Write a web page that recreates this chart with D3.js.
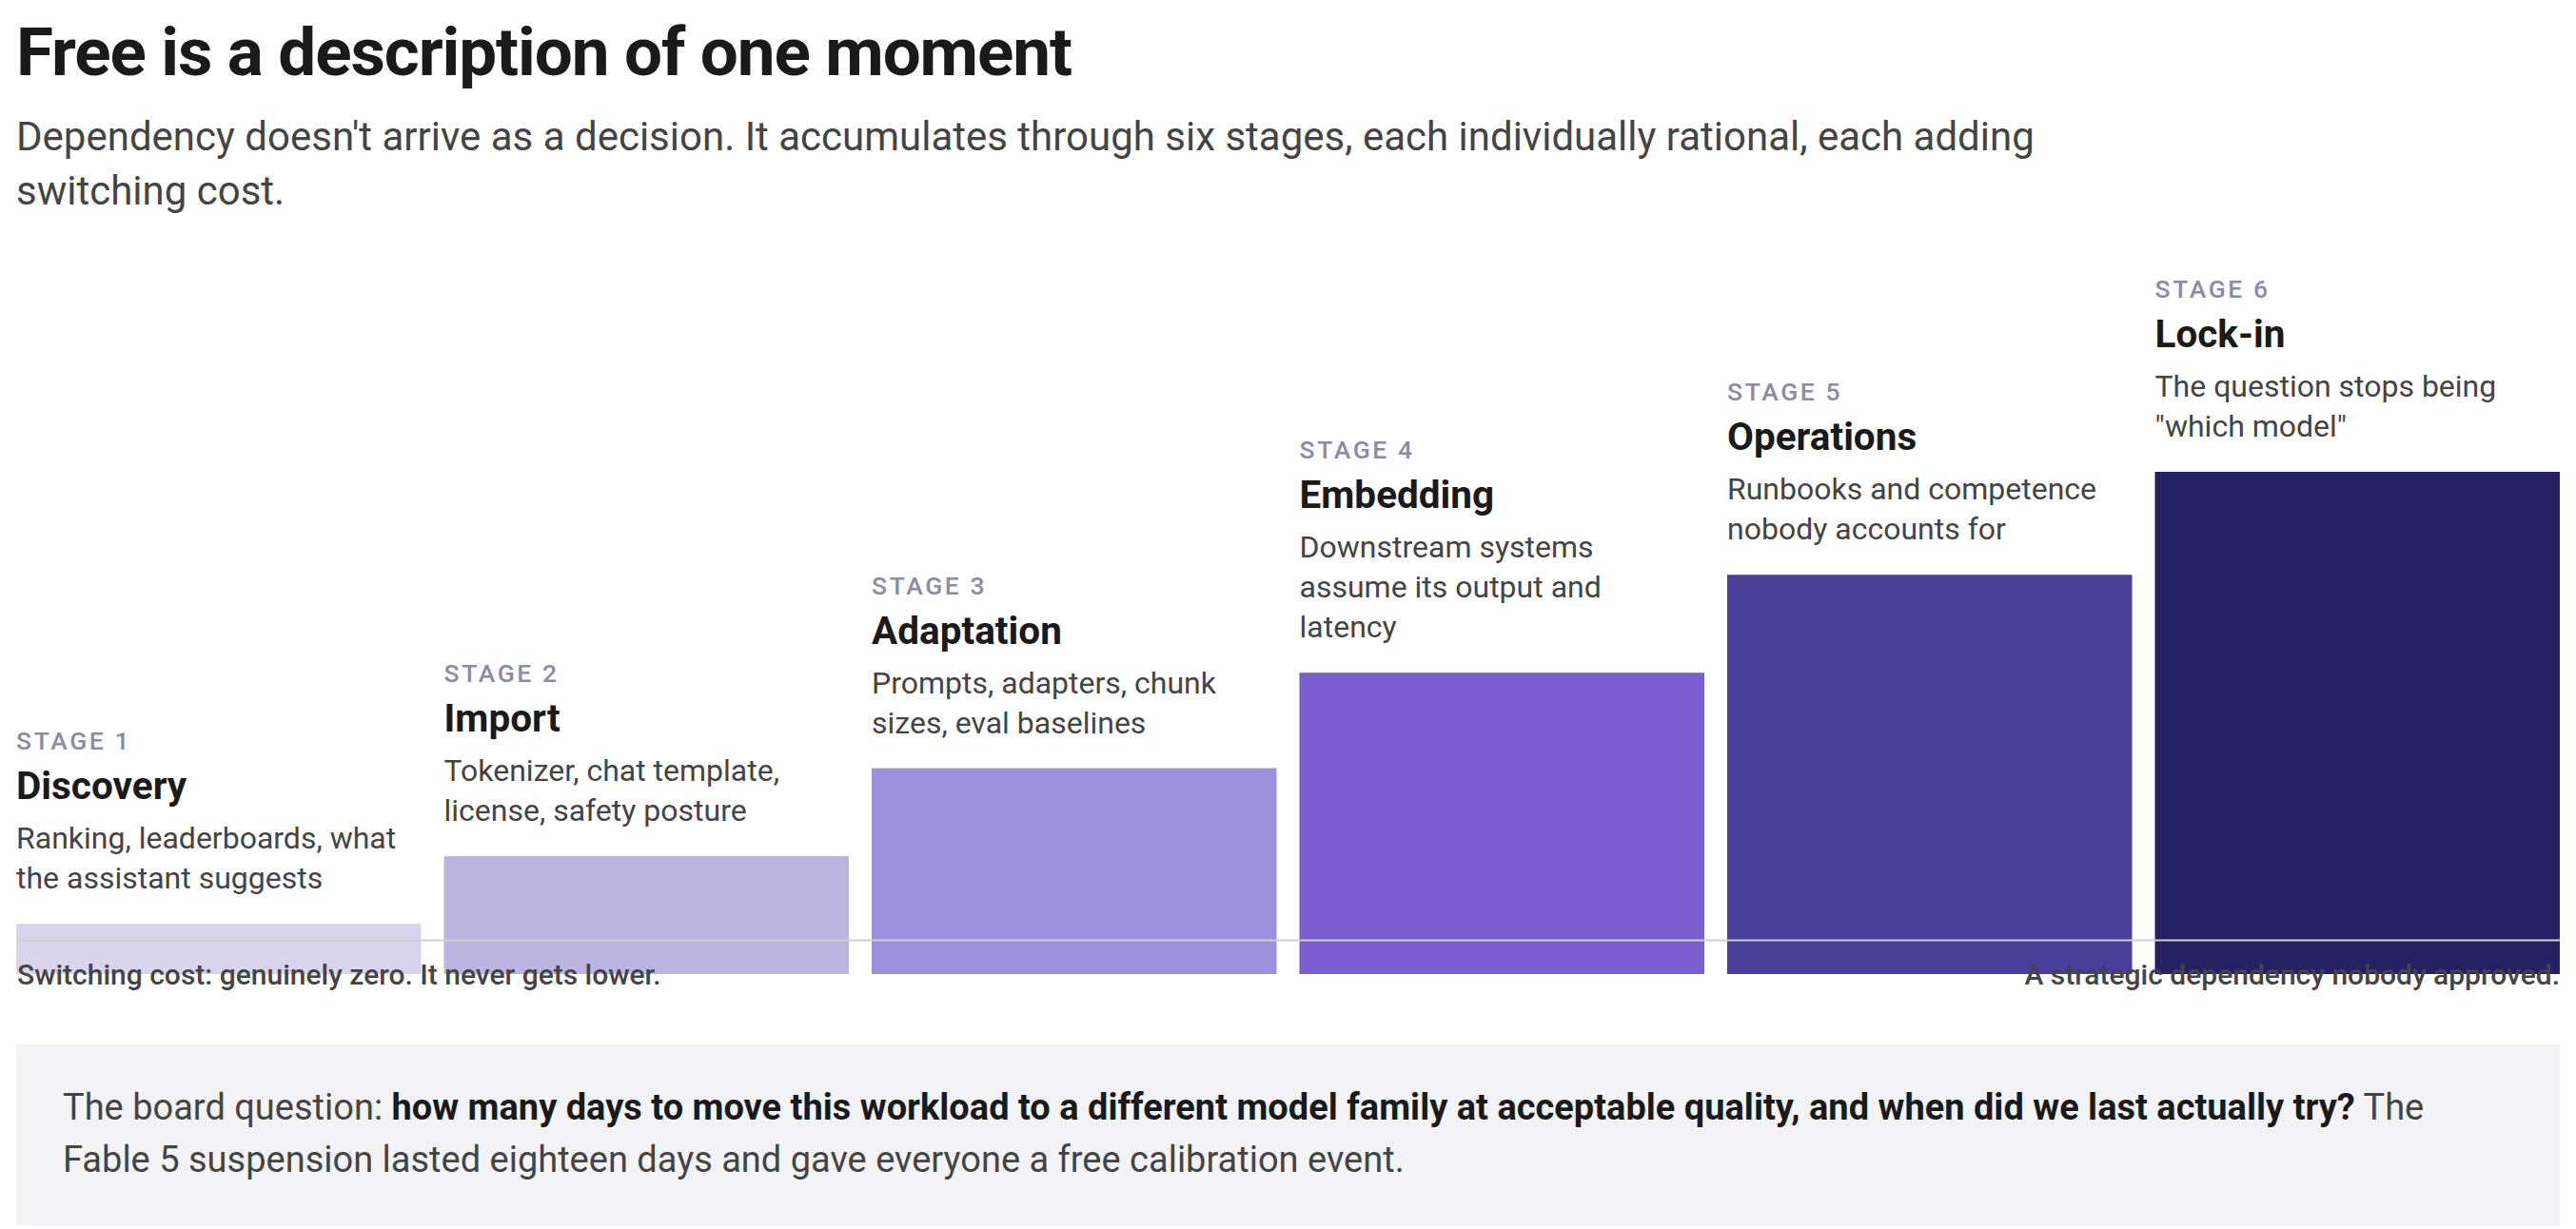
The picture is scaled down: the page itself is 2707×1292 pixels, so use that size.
<!DOCTYPE html>
<html>
<head>
<meta charset="utf-8">
<script src="https://cdn.jsdelivr.net/npm/d3@7"></script>
<style>
  body { margin: 0; background: #fff; font-family: Roboto, 'Noto Sans', sans-serif; }
  svg { display: block; }
</style>
</head>
<body>
<div id="chart"></div>
<script>
const stageLabels = ['STAGE 1', 'STAGE 2', 'STAGE 3', 'STAGE 4', 'STAGE 5', 'STAGE 6'];
const stageNames = ['Discovery', 'Import', 'Adaptation', 'Embedding', 'Operations', 'Lock-in'];
const stageNotes = [
  ['Ranking, leaderboards, what', 'the assistant suggests'],
  ['Tokenizer, chat template,', 'license, safety posture'],
  ['Prompts, adapters, chunk', 'sizes, eval baselines'],
  ['Downstream systems', 'assume its output and', 'latency'],
  ['Runbooks and competence', 'nobody accounts for'],
  ['The question stops being', '"which model"'],
];
// relative switching cost
const switchingCost = [10, 23.5, 41, 60, 79.5, 100];

const titleText = 'Free is a description of one moment';
const subtitleLines = [
  "Dependency doesn't arrive as a decision. It accumulates through six stages, each individually rational, each adding",
  'switching cost.',
];
const floorLeft = 'Switching cost: genuinely zero. It never gets lower.';
const floorRight = 'A strategic dependency nobody approved.';
const noteLines = [
  [
    { t: 'The board question: ', b: false },
    { t: 'how many days to move this workload to a different model family at acceptable quality, and when did we last actually try?', b: true },
    { t: ' The', b: false },
  ],
  [{ t: 'Fable 5 suspension lasted eighteen days and gave everyone a free calibration event.', b: false }],
];

const colors = ['#d8d4ec', '#bcb5e0', '#9c8fdb', '#7a5ecf', '#4c3f9b', '#262163'];

const width = 2707,
  height = 1292,
  left = 17,
  right = 2690,
  barBottom = 1024,
  barMax = 496;

const svg = d3
  .select('#chart')
  .append('svg')
  .attr('width', width)
  .attr('height', height);

svg
  .append('text')
  .attr('x', left)
  .attr('y', 79)
  .attr('fill', '#1a1a1a')
  .style('font-size', '71px')
  .style('font-weight', 700)
  .style('letter-spacing', '-1.1px')
  .text(titleText);

svg
  .append('g')
  .selectAll('text')
  .data(subtitleLines)
  .enter()
  .append('text')
  .attr('x', left)
  .attr('y', (d, i) => 158 + i * 57)
  .attr('fill', '#444')
  .style('font-size', '42px')
  .text((d) => d);

const x = d3
  .scaleBand()
  .domain(stageNames)
  .range([left, right])
  .paddingInner(24 / 449.5)
  .paddingOuter(0);

const y = d3.scaleLinear().domain([0, 100]).range([barBottom, barMax]);

const data = stageNames.map((name, i) => ({
  name,
  label: stageLabels[i],
  notes: stageNotes[i],
  value: switchingCost[i],
  color: colors[i],
}));

svg
  .append('g')
  .selectAll('rect')
  .data(data)
  .enter()
  .append('rect')
  .attr('x', (d) => x(d.name))
  .attr('y', (d) => y(d.value))
  .attr('width', x.bandwidth())
  .attr('height', (d) => y(0) - y(d.value))
  .attr('fill', (d) => d.color);

// text block sits on top of each bar
const block = svg
  .append('g')
  .selectAll('g')
  .data(data)
  .enter()
  .append('g')
  .attr('transform', (d) => 'translate(' + x(d.name) + ',' + (y(d.value) - 37) + ')');

block
  .selectAll('text.note')
  .data((d) => d.notes.map((t, i) => ({ t, i, n: d.notes.length })))
  .enter()
  .append('text')
  .attr('class', 'note')
  .attr('y', (d) => -(d.n - 1 - d.i) * 42)
  .attr('fill', '#444')
  .style('font-size', '32px')
  .text((d) => d.t);

block
  .append('text')
  .attr('y', (d) => -(d.notes.length - 1) * 42 - 52)
  .attr('fill', '#1a1a1a')
  .style('font-size', '40.5px')
  .style('font-weight', 700)
  .text((d) => d.name);

block
  .append('text')
  .attr('y', (d) => -(d.notes.length - 1) * 42 - 104)
  .attr('fill', '#8b8ba3')
  .style('font-size', '26.5px')
  .style('font-weight', 500)
  .style('letter-spacing', '2.6px')
  .text((d) => d.label);

svg
  .append('line')
  .attr('x1', left)
  .attr('x2', right)
  .attr('y1', 988.5)
  .attr('y2', 988.5)
  .attr('stroke', '#cfcfcf')
  .attr('stroke-width', 2);

svg
  .append('text')
  .attr('x', left + 1)
  .attr('y', 1035)
  .attr('fill', '#444')
  .style('font-size', '30px')
  .style('font-weight', 500)
  .text(floorLeft);

svg
  .append('text')
  .attr('x', right)
  .attr('y', 1035)
  .attr('text-anchor', 'end')
  .attr('fill', '#444')
  .style('font-size', '30px')
  .style('font-weight', 500)
  .text(floorRight);

svg
  .append('rect')
  .attr('x', left)
  .attr('y', 1098)
  .attr('width', right - left)
  .attr('height', 190)
  .attr('fill', '#f3f3f5');

const note = svg
  .append('g')
  .selectAll('text')
  .data(noteLines)
  .enter()
  .append('text')
  .attr('x', 66)
  .attr('y', (d, i) => 1177 + i * 54.5)
  .style('font-size', '38px');

note
  .selectAll('tspan')
  .data((d) => d)
  .enter()
  .append('tspan')
  .attr('fill', (d) => (d.b ? '#1a1a1a' : '#444'))
  .style('font-weight', (d) => (d.b ? 700 : 400))
  .style('white-space', 'pre')
  .text((d) => d.t);
</script>
</body>
</html>
